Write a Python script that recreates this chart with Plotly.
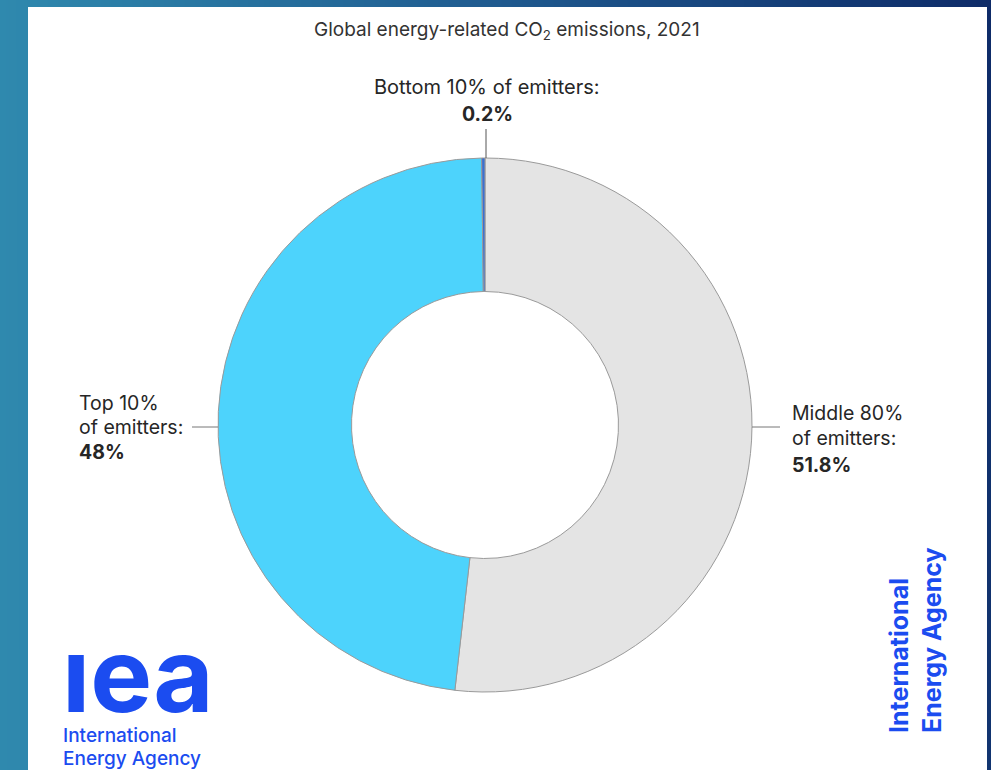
import plotly.graph_objects as go

# ---- data ----
labels = ["Middle 80% of emitters", "Top 10% of emitters", "Bottom 10% of emitters"]
values = [51.8, 48.0, 0.2]
slice_colors = ["#e4e4e4", "#4dd3fc", "#3a6fd2"]
title_text = "Global energy-related CO<sub>2</sub> emissions, 2021"

W, H = 991, 770
CX, CY, R = 485, 425, 267  # pie centre / radius in pixels

fig = go.Figure()

# background gradient (decorative)
fig.add_trace(go.Heatmap(
    x=[0, 495, 991], y=[0, 385, 770],
    z=[[0, 0.5, 1], [0, 0.45, 0.95], [0, 0.4, 0.9]],
    colorscale=[[0, "#2f89ae"], [0.5, "#1f5a8f"], [1, "#0e2b68"]],
    zsmooth="best", showscale=False, hoverinfo="skip",
))
# white panel
fig.add_trace(go.Scatter(
    x=[28, 987, 987, 28, 28], y=[7, 7, 771, 771, 7], mode="lines",
    fill="toself", fillcolor="white", line=dict(width=0), hoverinfo="skip",
    showlegend=False,
))

fig.add_trace(go.Pie(
    labels=labels, values=values, sort=False, direction="clockwise",
    rotation=0, hole=0.5, textinfo="none", hoverinfo="label+value",
    marker=dict(colors=slice_colors, line=dict(color="#9a9a9a", width=1)),
    domain=dict(x=[(CX - R) / W, (CX + R) / W],
                y=[(H - CY - R) / H, (H - CY + R) / H]),
    showlegend=False,
))

fig.update_xaxes(range=[0, W], visible=False, domain=[0, 1], fixedrange=True)
fig.update_yaxes(range=[H, 0], visible=False, domain=[0, 1], fixedrange=True)

def px(x):
    return x / W

def py(y):
    return 1 - y / H

FONT = "Inter, Roboto, sans-serif"
TXT = "#262626"
BLUE = "#1b4cf0"

annotations = []
def ann(x, y, text, size=19.5, color=TXT, xanchor="center", weight=None, **kw):
    f = dict(family=FONT, size=size, color=color)
    if weight:
        f["weight"] = weight
    annotations.append(dict(x=px(x), y=py(y), xref="paper", yref="paper", text=text,
                            showarrow=False, xanchor=xanchor, yanchor="middle",
                            font=f, **kw))

ann(507, 30, title_text, size=19, color="#333333")
ann(487, 87, "Bottom 10% of emitters:", size=20)
ann(487, 114, "<b>0.2%</b>")
ann(77, 403, "Top 10%", xanchor="left")
ann(77, 427, "of emitters:", xanchor="left")
ann(77, 452, "<b>48%</b>", xanchor="left")
ann(790, 413, "Middle 80%", xanchor="left")
ann(790, 438, "of emitters:", xanchor="left")
ann(790, 465, "<b>51.8%</b>", xanchor="left")

# logos
ann(60, 674, "<b>ıea</b>", size=104, color=BLUE, xanchor="left", height=90, valign="middle")
ann(61, 735, "International", size=19, color=BLUE, xanchor="left", weight=500)
ann(61, 758, "Energy Agency", size=19, color=BLUE, xanchor="left", weight=500)
annotations.append(dict(x=px(915), y=py(640), xref="paper", yref="paper",
                        xanchor="center", yanchor="middle",
                        text="<b>International<br>Energy Agency</b>", showarrow=False,
                        textangle=-90, align="left",
                        font=dict(family=FONT, size=25, color=BLUE)))

# leader lines
shapes = [
    dict(type="line", xref="paper", yref="paper", x0=px(CX + 1), x1=px(CX + 1),
         y0=py(129), y1=py(CY - R), line=dict(color="#555555", width=1)),
    dict(type="line", xref="paper", yref="paper", x0=px(192), x1=px(CX - R),
         y0=py(427), y1=py(427), line=dict(color="#777777", width=1)),
    dict(type="line", xref="paper", yref="paper", x0=px(CX + R), x1=px(780),
         y0=py(427), y1=py(427), line=dict(color="#777777", width=1)),
]

fig.update_layout(
    width=W, height=H, margin=dict(l=0, r=0, t=0, b=0),
    paper_bgcolor="white", plot_bgcolor="white",
    annotations=annotations, shapes=shapes, showlegend=False,
)

fig.write_html("out.html")
